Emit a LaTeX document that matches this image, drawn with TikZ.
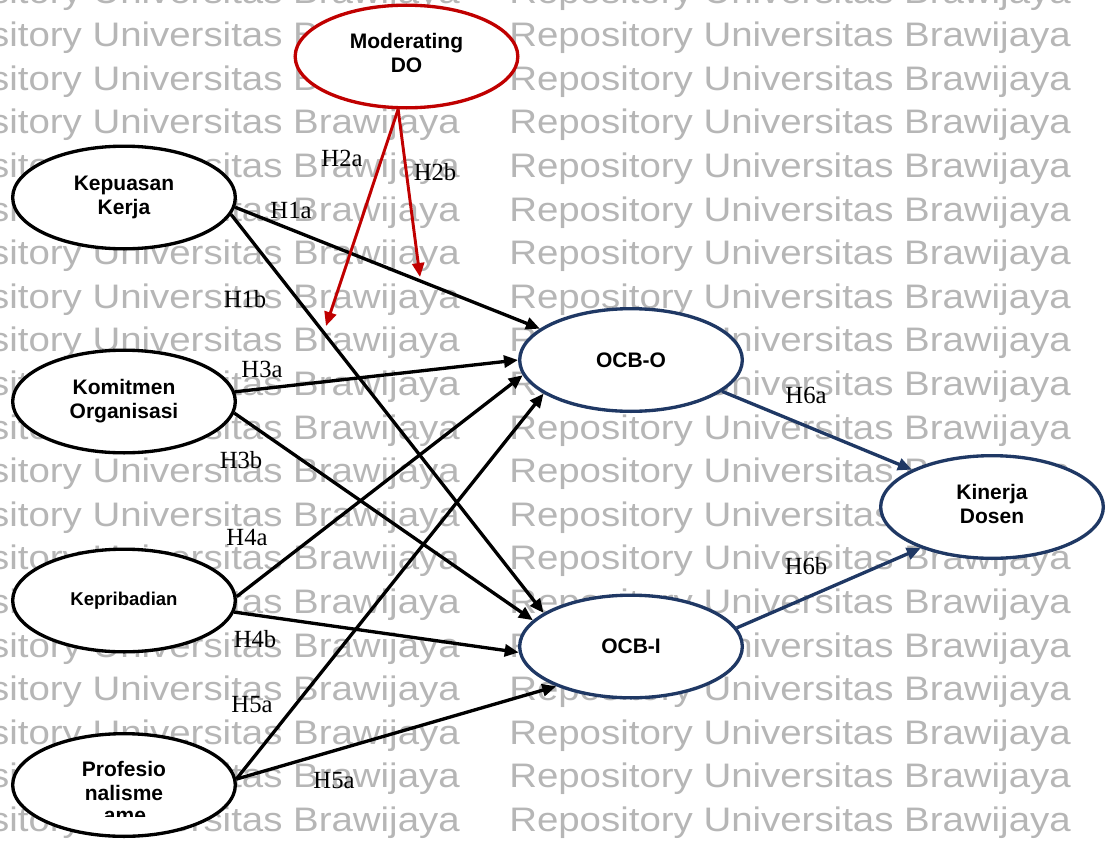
\documentclass[tikz,border=0pt]{standalone}
\usepackage{fontspec}
\setmainfont{Liberation Serif}
\setsansfont{Liberation Sans}
\usetikzlibrary{shapes.geometric,arrows.meta}
\definecolor{wmgray}{RGB}{182,182,182}
\definecolor{modred}{RGB}{192,0,0}
\definecolor{navy}{RGB}{31,56,100}

\begin{document}
\begin{tikzpicture}[x=0.75pt,y=-0.75pt,
  ctext/.style={inner sep=0pt,align=center,
    font=\sffamily\bfseries\fontsize{15.75pt}{18pt}\selectfont},
  construct/.style={ctext,ellipse,draw=black,line width=2.5pt,fill=white,
    minimum width=167pt,minimum height=77pt},
  modnode/.style={construct,draw=modred},
  outnode/.style={construct,draw=navy},
  wm/.style={inner sep=0pt,anchor=base west,text=wmgray,
    font=\sffamily\fontsize{25.5pt}{30pt}\selectfont},
  hlab/.style={inner sep=0pt,anchor=base,font=\fontsize{18.5pt}{20pt}\selectfont},
  link/.style={line width=2.5pt,draw=black,-{Triangle[length=10.5pt,width=9pt]}},
  modlink/.style={link,draw=modred,fill=modred,line width=2.2pt},
  outlink/.style={link,draw=navy,fill=navy},
]
\useasboundingbox (0,0) rectangle (1110,846);
\clip (0,0) rectangle (1110,846);

% repository watermark in two columns
\foreach \n in {0,...,20}{
  \node[wm] (wmL\n) at (-102,3+43.6*\n) {\scalebox{1.13}[1]{Repository Universitas Brawijaya}};
  \node[wm] (wmR\n) at (509,3+43.6*\n) {\scalebox{1.13}[1]{Repository Universitas Brawijaya}};
}

% constructs
\node[modnode] (mod) at (406.5,56.5) {};
\node[ctext] (mod-t) at ([yshift=2.5pt]mod.center) {Moderating\\DO};
\node[construct] (kep) at (124,197.5) {Kepuasan\\Kerja};
\node[construct] (kom) at (124,401.5) {Komitmen\\Organisasi};
\node[construct,font=\sffamily\bfseries\fontsize{13.9pt}{16pt}\selectfont] (kpr) at (124,600.5) {Kepribadian};
\node[construct] (prof) at (124,785) {};
\node[ctext] (prof-t) at ([yshift=3pt]prof.center) {Profesio\\nalisme};
\node[outnode] (ocbo) at (631,360) {OCB-O};
\node[outnode] (ocbi) at (631,646.5) {OCB-I};
\node[outnode] (kin) at (992,507) {};
\node[ctext] (kin-t) at ([yshift=2.5pt]kin.center) {Kinerja\\Dosen};

% third line of the Profesionalisme box, cut off by its frame
\begin{scope}
  \clip (95,805) rectangle (155,816);
  \node[ctext,anchor=base] (profx) at (125,822) {ame};
\end{scope}

% moderation targets on the H1a and H1b paths
\coordinate (h2atip) at (326,326);
\coordinate (h2btip) at (420,277);

% paths
\draw[link] (kep.-5) -- (ocbo.161);
\draw[link] (kep.-9) -- (ocbi.159);
\draw[link] (kom.5) -- (ocbo.180);
\draw[link] (kom.-6) -- (ocbi.165);
\draw[link] (kpr.2) -- (ocbo.188);
\draw[link] (kpr.-6) -- (ocbi.183);
\draw[link] (prof.3) -- (ocbo.201);
\draw[link] (prof.3) -- (ocbi.208);
\draw[outlink] (ocbo.-19) -- (kin.155);
\draw[outlink] (ocbi.10) -- (kin.210);
\draw[modlink] (mod.261) -- (h2atip);
\draw[modlink] (mod.261) -- (h2btip);

% hypothesis labels
\node[hlab] (l1a) at (291,218) {H1a};
\node[hlab] (l1b) at (245,307) {H1b};
\node[hlab] (l2a) at (342,166) {H2a};
\node[hlab] (l2b) at (435,180) {H2b};
\node[hlab] (l3a) at (262,377) {H3a};
\node[hlab] (l3b) at (241,468) {H3b};
\node[hlab] (l4a) at (247,545) {H4a};
\node[hlab] (l4b) at (255,647) {H4b};
\node[hlab] (l5a) at (252,712) {H5a};
\node[hlab] (l5b) at (334,788) {H5a};
\node[hlab] (l6a) at (806,403) {H6a};
\node[hlab] (l6b) at (806,574) {H6b};
\end{tikzpicture}
\end{document}
